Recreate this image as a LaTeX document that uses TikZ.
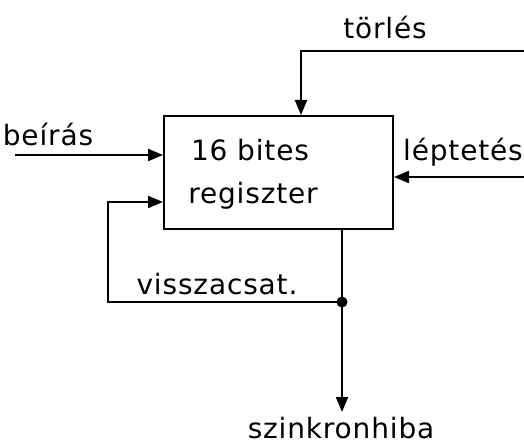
\documentclass[tikz,border=0pt]{standalone}
\usepackage{fontspec}
\setmainfont[LetterSpace=3]{DejaVu Sans}
\usetikzlibrary{arrows.meta}
\begin{document}
\begin{tikzpicture}[x=1pt,y=-1pt,
  wire/.style={line width=2pt},
  sig/.style={wire,-{Triangle[length=15pt,width=12pt]}},
  lbl/.style={font=\fontsize{28}{30}\selectfont, inner sep=0pt}]
\useasboundingbox (0,0) rectangle (524,446);

% register block
\node[draw, line width=2pt, minimum width=229pt, minimum height=113pt,
      inner sep=0pt, anchor=north west] (reg) at (163,115) {};
\node[lbl] (l16) at (250,150) {16 bites};
\node[lbl] (lreg) at (253,196) {regiszter};

% signal labels
\node[lbl] (ltor) at (385,28) {törlés};
\node[lbl] (lbei) at (48,135) {beírás};
\node[lbl] (llep) at (463,152) {léptetés};
\node[lbl] (lvis) at (217,284) {visszacsat.};
\node[lbl] (lszi) at (341,428) {szinkronhiba};

% free ends and corners
\coordinate (tin) at (524,51);
\coordinate (bin) at (15,155);
\coordinate (lin) at (524,177);
\coordinate (oj)  at (342,302);
\coordinate (oend) at (342,412);
\coordinate (fb)  at (108,202);

% connectors
\draw[sig] (tin) -| ([xshift=22.5pt]reg.north);
\draw[sig] (bin) -- (bin -| reg.west);
\draw[sig] (lin) -- (lin -| reg.east);
\draw[wire] (reg.south -| oj) -- (oj);
\draw[sig] (oj) -- (oend);
\draw[sig] (oj) -- (oj -| fb) -- (fb) -- (fb -| reg.west);
\fill (oj) circle (5.5pt);
\end{tikzpicture}
\end{document}
